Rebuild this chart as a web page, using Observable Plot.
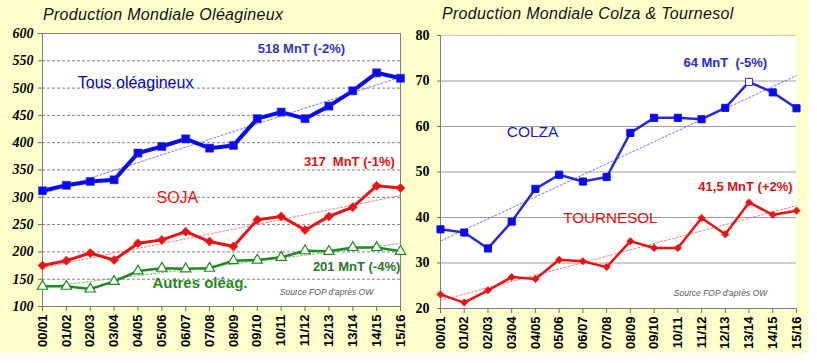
<!DOCTYPE html>
<html>
<head>
<meta charset="utf-8">
<script src="https://cdn.jsdelivr.net/npm/d3@7"></script>
<script src="https://cdn.jsdelivr.net/npm/@observablehq/plot@0.6"></script>
<style>
  html, body { margin: 0; padding: 0; background: #ffffff; }
  #wrap { position: relative; width: 817px; height: 363px; background: #ffffff; overflow: hidden; }
  #bg { position: absolute; left: 0; top: 0; width: 808px; height: 353px; background: #ffffcc; }
  .title { position: absolute; font-family: "Liberation Sans", Arial, sans-serif; font-style: italic; font-size: 16px; letter-spacing: 0.3px; color: #111; line-height: 16px; white-space: nowrap; }
  #left, #right { position: absolute; top: 0; }
  #left { left: 0; }
  #right { left: 408px; }
</style>
</head>
<body>
<div id="wrap">
  <div id="bg"></div>
  <div id="left"></div>
  <div id="right"></div>
  <div class="title" style="left:43px; top:7px;">Production Mondiale Oléagineux</div>
  <div class="title" style="left:442px; top:6px;">Production Mondiale Colza &amp; Tournesol</div>
</div>
<script>
// ---- data ----
const seasons = ["00/01","01/02","02/03","03/04","04/05","05/06","06/07","07/08","08/09","09/10","10/11","11/12","12/13","13/14","14/15","15/16"];
const tousOleagineux = [312, 322, 329, 332, 381, 393, 407, 390, 395, 444, 456, 444, 467, 495, 528, 518];
const soja           = [175, 184, 198, 185, 216, 222, 237, 219, 210, 259, 265, 240, 265, 282, 321, 317];
const autresOleag    = [137, 137, 132, 146, 165, 170, 169, 170, 184, 185, 190, 202, 201, 208, 208, 201];
const colza          = [37.4, 36.7, 33.2, 39.1, 46.3, 49.4, 47.9, 48.9, 58.6, 61.9, 61.9, 61.6, 64.1, 69.8, 67.5, 64.0];
const tournesol      = [23.1, 21.3, 24.0, 26.9, 26.5, 30.7, 30.4, 29.1, 34.8, 33.3, 33.3, 39.9, 36.3, 43.3, 40.6, 41.5];
const yTicksLeft  = [100, 150, 200, 250, 300, 350, 400, 450, 500, 550, 600];
const yTicksRight = [20, 30, 40, 50, 60, 70, 80];
const openMarkerSeason = "13/14";

const rows = arr => seasons.map((s, i) => ({i, s, v: arr[i]}));
const sans = "'Liberation Sans', Arial, sans-serif";
const serif = "'Liberation Serif', 'Times New Roman', serif";
const xIdx = d3.range(seasons.length);

const xAxis = () => Plot.axisX({
  ticks: xIdx, tickFormat: i => seasons[i], tickRotate: -90,
  tickSize: 5, tickPadding: 3, stroke: "#707070", fill: "#000",
  fontFamily: sans, fontWeight: "bold", fontSize: 13
});

// ---- left chart ----
const left = Plot.plot({
  width: 408, height: 353,
  marginLeft: 42, marginRight: 8, marginTop: 33, marginBottom: 47,
  style: {background: "transparent", overflow: "visible"},
  x: {domain: [0, seasons.length - 1], axis: null},
  y: {domain: [100, 600], axis: null},
  marks: [
    Plot.frame({fill: "white", stroke: "none"}),
    Plot.gridY(yTicksLeft.slice(1, -1), {stroke: "#808080", strokeOpacity: 1, strokeDasharray: "3,2"}),
    Plot.frame({stroke: "#808080"}),
    Plot.axisY({ticks: yTicksLeft, tickSize: 4, tickPadding: 5, stroke: "#707070", fill: "#000",
      fontFamily: serif, fontWeight: "bold", fontStyle: "italic", fontSize: 14}),
    xAxis(),
    Plot.linearRegressionY(rows(tousOleagineux), {x: "i", y: "v", ci: 0, stroke: "#6a6ae0", strokeWidth: 0.9, strokeDasharray: "2,2"}),
    Plot.linearRegressionY(rows(soja), {x: "i", y: "v", ci: 0, stroke: "#f07070", strokeWidth: 0.9, strokeDasharray: "2,2"}),
    Plot.linearRegressionY(rows(autresOleag), {x: "i", y: "v", ci: 0, stroke: "#70b070", strokeWidth: 0.9, strokeDasharray: "2,2"}),
    Plot.line(rows(autresOleag), {x: "i", y: "v", stroke: "#1f8a1f", strokeWidth: 2.5}),
    Plot.dot(rows(autresOleag), {x: "i", y: "v", symbol: "triangle", r: 3.8, fill: "white", stroke: "#1f8a1f", strokeWidth: 1.2}),
    Plot.line(rows(soja), {x: "i", y: "v", stroke: "#ee1111", strokeWidth: 3}),
    Plot.dot(rows(soja), {x: "i", y: "v", symbol: "square", rotate: 45, r: 3.6, fill: "#ee1111", stroke: "#ee1111", strokeWidth: 0.5}),
    Plot.line(rows(tousOleagineux), {x: "i", y: "v", stroke: "#0a0af0", strokeWidth: 4}),
    Plot.dot(rows(tousOleagineux), {x: "i", y: "v", symbol: "square", r: 4.6, fill: "#0a0af0", stroke: "#3333ff", strokeWidth: 0.5}),
    Plot.text([{x: 3.9, y: 510, t: "Tous oléagineux"}], {x: "x", y: "y", text: "t", fill: "#0000cc", fontFamily: sans, fontSize: 16}),
    Plot.text([{x: 10.85, y: 572, t: "518 MnT (-2%)"}], {x: "x", y: "y", text: "t", fill: "#3333cc", fontFamily: sans, fontSize: 13, fontWeight: "bold"}),
    Plot.text([{x: 12.86, y: 365, t: "317  MnT (-1%)"}], {x: "x", y: "y", text: "t", fill: "#dd1111", fontFamily: sans, fontSize: 13, fontWeight: "bold"}),
    Plot.text([{x: 5.65, y: 299, t: "SOJA"}], {x: "x", y: "y", text: "t", fill: "#ee1111", fontFamily: sans, fontSize: 16}),
    Plot.text([{x: 13.16, y: 172, t: "201 MnT (-4%)"}], {x: "x", y: "y", text: "t", fill: "#1f7a1f", fontFamily: sans, fontSize: 13, fontWeight: "bold"}),
    Plot.text([{x: 6.6, y: 143, t: "Autres oléag."}], {x: "x", y: "y", text: "t", fill: "#1f8a1f", fontFamily: sans, fontSize: 15, fontWeight: "bold"}),
    Plot.text([{x: 11.9, y: 126, t: "Source FOP d'après OW"}], {x: "x", y: "y", text: "t", fill: "#555", fontFamily: sans, fontSize: 8.5, fontStyle: "italic"})
  ]
});
document.getElementById("left").append(left);

// ---- right chart ----
const right = Plot.plot({
  width: 400, height: 353,
  marginLeft: 32, marginRight: 12, marginTop: 35, marginBottom: 45,
  style: {background: "transparent", overflow: "visible"},
  x: {domain: [0, seasons.length - 1], axis: null},
  y: {domain: [20, 80], axis: null},
  marks: [
    Plot.frame({fill: "white", stroke: "none"}),
    Plot.gridY(yTicksRight.slice(1, -1), {stroke: "#a0a0a0", strokeOpacity: 1}),
    Plot.ruleY([yTicksRight[yTicksRight.length - 1]], {stroke: "#c8c8c8"}),
    Plot.ruleY([yTicksRight[0]], {stroke: "#808080"}),
    Plot.ruleX([0], {stroke: "#808080"}),
    Plot.axisY({ticks: yTicksRight, tickSize: 3, tickPadding: 8, stroke: "#707070", fill: "#000",
      fontFamily: serif, fontWeight: "bold", fontSize: 14}),
    xAxis(),
    Plot.linearRegressionY(rows(colza), {x: "i", y: "v", ci: 0, stroke: "#6a6ae0", strokeWidth: 0.9, strokeDasharray: "2,2"}),
    Plot.linearRegressionY(rows(tournesol), {x: "i", y: "v", ci: 0, stroke: "#f07070", strokeWidth: 0.9, strokeDasharray: "2,2"}),
    Plot.line(rows(tournesol), {x: "i", y: "v", stroke: "#ee1111", strokeWidth: 2.5}),
    Plot.dot(rows(tournesol), {x: "i", y: "v", symbol: "square", rotate: 45, r: 3, fill: "#ee1111", stroke: "#ee1111", strokeWidth: 0.5}),
    Plot.line(rows(colza), {x: "i", y: "v", stroke: "#2a2ad4", strokeWidth: 2.5}),
    Plot.dot(rows(colza), {x: "i", y: "v", symbol: "square", r: 4,
      fill: d => d.s === openMarkerSeason ? "white" : "#0a0af0",
      stroke: d => d.s === openMarkerSeason ? "#2a2ad4" : "#0a0af0", strokeWidth: 1}),
    Plot.text([{x: 12.0, y: 74.1, t: "64 MnT  (-5%)"}], {x: "x", y: "y", text: "t", fill: "#2a2ad4", fontFamily: sans, fontSize: 13, fontWeight: "bold"}),
    Plot.text([{x: 3.88, y: 58.75, t: "COLZA"}], {x: "x", y: "y", text: "t", fill: "#1a1acc", fontFamily: sans, fontSize: 15.5}),
    Plot.text([{x: 12.85, y: 46.7, t: "41,5 MnT (+2%)"}], {x: "x", y: "y", text: "t", fill: "#dd1111", fontFamily: sans, fontSize: 13, fontWeight: "bold"}),
    Plot.text([{x: 7.16, y: 39.9, t: "TOURNESOL"}], {x: "x", y: "y", text: "t", fill: "#dd1111", fontFamily: sans, fontSize: 15.2}),
    Plot.text([{x: 11.8, y: 23.4, t: "Source FOP d'après OW"}], {x: "x", y: "y", text: "t", fill: "#555", fontFamily: sans, fontSize: 8.5, fontStyle: "italic"})
  ]
});
document.getElementById("right").append(right);
</script>
</body>
</html>
